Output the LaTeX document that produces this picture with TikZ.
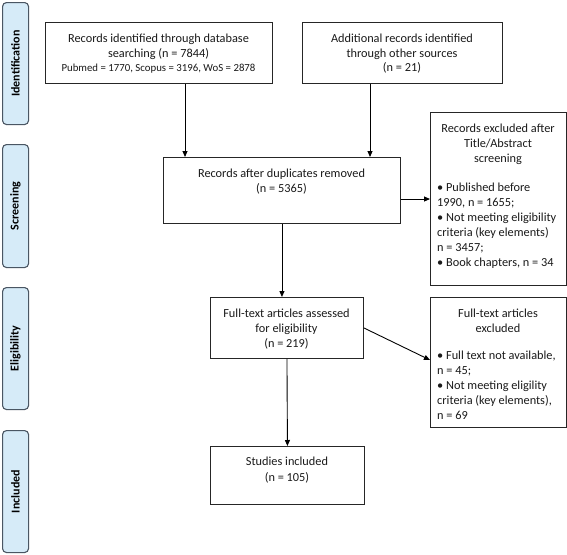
\documentclass[tikz,border=0pt]{standalone}
\usepackage{fontspec}
\setmainfont{Carlito}
\usetikzlibrary{arrows.meta}
\definecolor{sidefill}{HTML}{D6EBF8}
\definecolor{sideline}{HTML}{4A5663}
\definecolor{txt}{HTML}{1A1A1A}
\begin{document}
\begin{tikzpicture}[x=1pt,y=-1pt,
  box/.style={draw=black!85, line width=0.9pt, anchor=north west, inner sep=0pt},
  side/.style={draw=sideline, fill=sidefill, line width=1.1pt, rounded corners=4pt, anchor=north west, inner sep=0pt, minimum width=26pt},
  sidelabel/.style={rotate=90, font=\fontsize{12}{13}\selectfont\bfseries, text=black},
  tx/.style={anchor=north, align=center, inner sep=0pt, text=txt, font=\fontsize{12.3}{14.5}\selectfont},
  bl/.style={anchor=north west, align=left, inner sep=0pt, text=txt, font=\fontsize{12.3}{15}\selectfont},
  arr/.style={draw=black, line width=0.9pt, -{Triangle[length=6pt,width=5pt]}}]
\fill[white] (0,0) rectangle (567,554);
\useasboundingbox (0,0) rectangle (567,554);

% side bars
\node[side, minimum height=122pt] (s1) at (2,2) {};
\node[side, minimum height=123pt] (s2) at (2,144) {};
\node[side, minimum height=122pt] (s3) at (2,287) {};
\node[side, minimum height=122pt] (s4) at (2,430) {};
\node[sidelabel] (l1) at (s1.center) {Identification};
\node[sidelabel] (l2) at (s2.center) {Screening};
\node[sidelabel] (l3) at (s3.center) {Eligibility};
\node[sidelabel] (l4) at (s4.center) {Included};

% boxes
\node[box, minimum width=227pt, minimum height=61pt] (b1) at (45,22) {};
\node[box, minimum width=200pt, minimum height=61pt] (b2) at (302,22) {};
\node[box, minimum width=237pt, minimum height=66pt] (b3) at (163,157) {};
\node[box, minimum width=136pt, minimum height=173pt] (b4) at (430,112) {};
\node[box, minimum width=153pt, minimum height=61pt] (b5) at (210,297) {};
\node[box, minimum width=136pt, minimum height=130pt] (b6) at (430,297) {};
\node[box, minimum width=154pt, minimum height=58pt] (b7) at (210,446) {};

% texts
\node[tx] (t1) at (158.5,34) {Records identified through database\\searching (n = 7844)\\[0pt]{\fontsize{10.8}{12}\selectfont Pubmed = 1770, Scopus = 3196, WoS = 2878}};
\node[tx] (t2) at (402,34) {Additional records identified\\through other sources\\(n = 21)};
\node[tx] (t3) at (281.5,169) {Records after duplicates removed\\(n = 5365)};
\node[tx, font=\fontsize{12.3}{15}\selectfont] (t4) at (498,124) {Records excluded after\\Title/Abstract\\screening};
\node[bl] (u4) at (437,183) {• Published before\\1990, n = 1655;\\• Not meeting eligibility\\criteria (key elements)\\n = 3457;\\• Book chapters, n = 34};
\node[tx, font=\fontsize{12.3}{15}\selectfont] (t5) at (286.5,309) {Full-text articles assessed\\for eligibility\\(n = 219)};
\node[tx, font=\fontsize{12.3}{15}\selectfont] (t6) at (498,309) {Full-text articles\\excluded};
\node[bl] (u6) at (437,350.5) {• Full text not available,\\n = 45;\\• Not meeting eligility\\criteria (key elements),\\n = 69};
\node[tx, font=\fontsize{12.3}{16}\selectfont] (t7) at (287,457) {Studies included\\(n = 105)};

% connectors
\coordinate (a1) at (185,0);
\coordinate (a2) at (370,0);
\coordinate (a3) at (0,199);
\coordinate (a4) at (0,360);
\draw[arr] (b1.south -| a1) -- (b3.north -| a1);
\draw[arr] (b2.south -| a2) -- (b3.north -| a2);
\draw[arr] (b3.east |- a3) -- (b4.west |- a3);
\draw[arr] (b3.south) -- (b3.south |- b5.north);
\draw[arr] (b5.east) -- (b6.west |- a4);
\draw[arr] (b5.south) -- (b7.north);
\end{tikzpicture}
\end{document}
